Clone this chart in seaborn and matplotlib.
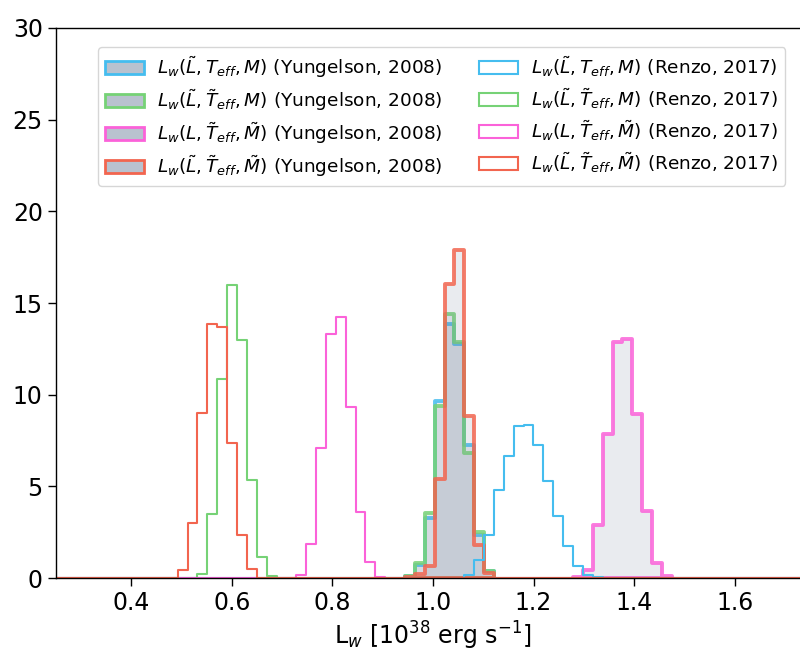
import numpy as np
import pandas as pd
import matplotlib
matplotlib.use("Agg")
import matplotlib.pyplot as plt
import seaborn as sns
from matplotlib.patches import Patch

# ---------------- data ----------------
BIN_WIDTH = 0.01966

# Yungelson (2008) -- filled histograms (density)
yung_blue_start = 0.9443
yung_blue = [0.10, 0.73, 3.30, 9.64, 13.87, 12.74, 7.26, 2.37, 0.40]
yung_green_start = 0.9443
yung_green = [0.10, 0.82, 3.56, 9.40, 14.42, 12.86, 6.84, 2.52, 0.36]
yung_pink_start = 1.2785
yung_pink = [0.05, 0.46, 2.88, 7.85, 12.86, 13.05, 8.94, 3.65, 0.82, 0.09]
yung_red_start = 0.9443
yung_red = [0.05, 0.20, 0.64, 5.38, 16.06, 17.88, 8.85, 1.79, 0.27]

# Renzo (2017) -- open step histograms (density)
renzo_blue_start = 1.0622
renzo_blue = [0.18, 1.00, 2.35, 4.80, 6.66, 8.30, 8.36, 7.24, 5.29, 3.38,
              1.77, 0.64, 0.15, 0.04]
renzo_green_start = 0.5314
renzo_green = [0.24, 3.49, 10.86, 15.99, 12.96, 5.35, 1.15, 0.09]
renzo_pink_start = 0.7280
renzo_pink = [0.18, 1.86, 7.12, 13.32, 14.23, 9.31, 3.61, 0.88, 0.05]
renzo_red_start = 0.4921
renzo_red = [0.42, 3.03, 9.03, 13.87, 13.69, 7.35, 2.34, 0.47]

labels_core = [
    r"$L_w(\tilde{L}, T_{eff}, M)$",
    r"$L_w(\tilde{L}, \tilde{T}_{eff}, M)$",
    r"$L_w(L, \tilde{T}_{eff}, \tilde{M})$",
    r"$L_w(\tilde{L}, \tilde{T}_{eff}, \tilde{M})$",
]
x_ticks = [0.4, 0.6, 0.8, 1.0, 1.2, 1.4, 1.6]
y_ticks = [0, 5, 10, 15, 20, 25, 30]

# ---------------- styling ----------------
COLORS = ["#45bdef", "#76d276", "#fb62d9", "#f2654f"]
FILL = "#6f7d98"
LEGEND_FILL = "#b9c2cf"

sns.set_theme(style="white")
plt.rcParams["font.family"] = ["DejaVu Sans"]
plt.rcParams["mathtext.fontset"] = "dejavusans"
plt.rcParams["text.color"] = "black"
plt.rcParams["axes.labelcolor"] = "black"
plt.rcParams["xtick.color"] = "black"
plt.rcParams["ytick.color"] = "black"

fig = plt.figure(figsize=(8.0, 6.51), dpi=100)
ax = fig.add_axes([0.07, 0.112, 0.9425, 0.845])

XMIN, XMAX = 0.25, 1.75


def make_frame(start, heights, full_range):
    heights = np.asarray(heights, float)
    n = len(heights)
    centers = start + BIN_WIDTH * (np.arange(n) + 0.5)
    if full_range:
        nl = int(np.ceil((start - XMIN) / BIN_WIDTH)) + 1
        nr = int(np.ceil((XMAX - (start + n * BIN_WIDTH)) / BIN_WIDTH)) + 1
    else:
        nl, nr = 0, 0
    edges = start + BIN_WIDTH * np.arange(-nl, n + nr + 1)
    return pd.DataFrame({"x": centers, "w": heights}), edges.tolist()


yung = [(yung_blue_start, yung_blue), (yung_green_start, yung_green),
        (yung_pink_start, yung_pink), (yung_red_start, yung_red)]
renzo = [(renzo_blue_start, renzo_blue), (renzo_green_start, renzo_green),
         (renzo_pink_start, renzo_pink), (renzo_red_start, renzo_red)]

for (start, h), c in zip(yung, COLORS):
    df, edges = make_frame(start, h, False)
    sns.histplot(data=df, x="x", weights="w", bins=edges, stat="count",
                 element="step", fill=True, ax=ax,
                 facecolor=matplotlib.colors.to_rgba(FILL, 0.15),
                 edgecolor=matplotlib.colors.to_rgba(c, 0.85),
                 linewidth=2.8)

for (start, h), c in zip(renzo, COLORS):
    df, edges = make_frame(start, h, True)
    sns.histplot(data=df, x="x", weights="w", bins=edges, stat="count",
                 element="step", fill=False, ax=ax, color=c, linewidth=1.5)

ax.set_xlim(XMIN, XMAX)
ax.set_ylim(0, 30)
ax.set_xticks(x_ticks)
ax.set_xticklabels([f"{t:.1f}" for t in x_ticks])
ax.set_yticks(y_ticks)
ax.set_yticklabels([str(t) for t in y_ticks])
ax.tick_params(axis="both", labelsize=17, length=6, width=1, direction="out",
               bottom=True, left=True, color="black", labelcolor="black")
ax.set_xlabel(r"L$_w$ [10$^{38}$ erg s$^{-1}$]", fontsize=17, labelpad=3,
              color="black")
ax.set_ylabel("")
for s in ax.spines.values():
    s.set_color("black")
    s.set_linewidth(1.0)

handles = []
labels = []
for c, lab in zip(COLORS, labels_core):
    handles.append(Patch(facecolor=LEGEND_FILL, edgecolor=c, linewidth=2))
    labels.append(lab + " (Yungelson, 2008)")
for c, lab in zip(COLORS, labels_core):
    handles.append(Patch(facecolor="none", edgecolor=c, linewidth=1.5))
    labels.append(lab + " (Renzo, 2017)")

leg = ax.legend(handles, labels, ncol=2, loc="upper left",
                bbox_to_anchor=(98 / 800, 1 - 47 / 651),
                bbox_transform=fig.transFigure, fontsize=13.3,
                handlelength=2.1, handleheight=0.7, handletextpad=0.7,
                columnspacing=2.0, labelspacing=0.4, borderpad=0.4,
                borderaxespad=0.0, frameon=True, fancybox=True)
leg.get_frame().set_edgecolor("#cccccc")
for t in leg.get_texts():
    t.set_color("black")

fig.savefig("out.png", dpi=100)
